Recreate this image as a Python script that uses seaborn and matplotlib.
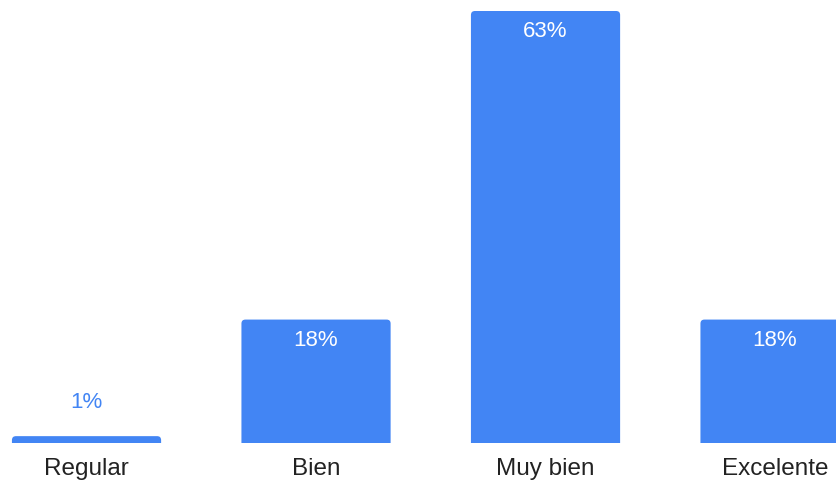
import pandas as pd
import matplotlib
matplotlib.use("Agg")
import matplotlib.pyplot as plt
import seaborn as sns
from matplotlib.patches import FancyBboxPatch

# Data
categories = ["Regular", "Bien", "Muy bien", "Excelente"]
percentages = [1, 18, 63, 18]
labels = ["1%", "18%", "63%", "18%"]

df = pd.DataFrame({"Respuesta": categories, "Porcentaje": percentages})

sns.set_style("white")
bar_color = "#4285F4"

fig = plt.figure(figsize=(8.37, 4.81), dpi=100)
ax = fig.add_axes([0, 37 / 481, 1, 444 / 481])

sns.barplot(data=df, x="Respuesta", y="Porcentaje", color=bar_color,
            width=0.65, saturation=1, ax=ax)

ax.set_xlim(-0.377, 3.27)
ax.set_ylim(0, 64.75)

# Replace bars with versions that have rounded top corners
px_x = 1 / 229.5
px_y = 1 / 6.857
for p in list(ax.patches):
    x, w, h = p.get_x(), p.get_width(), p.get_height()
    p.remove()
    r = 4 * px_x
    rounded = FancyBboxPatch((x, -2), w, h + 2,
                             boxstyle=f"round,pad=0,rounding_size={r}",
                             mutation_aspect=px_y / px_x,
                             facecolor=bar_color, edgecolor="none",
                             clip_on=True)
    ax.add_patch(rounded)

# Value labels
for i, (v, lab) in enumerate(zip(percentages, labels)):
    if v < 5:
        ax.annotate(lab, (i, v), xytext=(0, 35), textcoords="offset pixels",
                    ha="center", va="center", color=bar_color,
                    fontsize=16, family="Liberation Sans")
    else:
        ax.annotate(lab, (i, v), xytext=(0, -20), textcoords="offset pixels",
                    ha="center", va="center", color="white",
                    fontsize=16, family="Liberation Sans")

ax.set_xlabel("")
ax.set_ylabel("")
ax.set_yticks([])
ax.tick_params(axis="x", length=0, pad=10)
for t in ax.get_xticklabels():
    t.set_fontsize(17.5)
    t.set_family("Liberation Sans")
    t.set_color("#222222")
sns.despine(ax=ax, left=True, bottom=True)

fig.savefig("out.png", dpi=100)
